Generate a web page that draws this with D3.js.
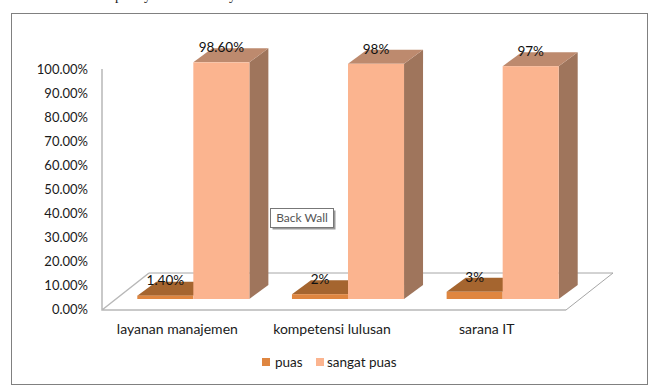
<!DOCTYPE html>
<html>
<head>
<meta charset="utf-8">
<script src="https://cdn.jsdelivr.net/npm/d3@7"></script>
<style>
    html, body { margin: 0; padding: 0; background: #fff; }
    text { font-family: Lato, "Open Sans", sans-serif; fill: #1a1a1a; }
</style>
</head>
<body>
<div id="chart"></div>
<script>
const categories = ["layanan manajemen", "kompetensi lulusan", "sarana IT"];
const seriesNames = ["puas", "sangat puas"];
const puas = [1.4, 2, 3];
const sangatPuas = [98.6, 98, 97];
const puasLabels = ["1.40%", "2%", "3%"];
const sangatPuasLabels = ["98.60%", "98%", "97%"];
const yTicks = [0, 10, 20, 30, 40, 50, 60, 70, 80, 90, 100];

const width = 657, height = 390;
const floor = { left: 102, right: 566, front: 310, dx: 47, dy: 37 };
const depth = { dx: 19, dy: 14 };   // bar depth
const plane = { dx: 14, dy: 10 };   // bars stand a bit behind the front edge of the floor

const colors = {
    puas: { front: "#df8640", top: "#a5652f" },
    sangat: { front: "#fbb48f", top: "#bd8a6e", side: "#9f755c" }
};

const svg = d3.select("#chart").append("svg")
    .attr("width", width)
    .attr("height", height)
    .style("display", "block");

svg.append("rect")
    .attr("x", 11.5).attr("y", 13.5)
    .attr("width", 636).attr("height", 371)
    .attr("fill", "#fff")
    .attr("stroke", "#808080");

// Leftover descenders of the page text, cropped at the top edge
svg.selectAll("text.cut")
    .data(["p", "y", "y"])
    .enter()
    .append("text")
    .attr("class", "cut")
    .attr("x", (d, i) => [115, 144, 229][i])
    .attr("y", 0)
    .style("font-family", "'Liberation Serif', serif")
    .style("font-size", "14px")
    .text(d => d);

// Scales
const xAxisScale = d3.scaleBand()
    .domain(categories)
    .range([floor.left - 2, floor.right - 2]);

const x0 = d3.scaleBand()
    .domain(categories)
    .range([floor.left + plane.dx, floor.right + plane.dx]);

const x1 = d3.scaleBand()
    .domain(seriesNames)
    .range([0, x0.bandwidth()])
    .paddingInner(0)
    .paddingOuter(0.38);

const y = d3.scaleLinear()
    .domain([0, 100])
    .range([floor.front - 1, 69]);

// Floor and left wall
svg.append("path")
    .attr("d", "M" + (floor.left + floor.dx) + "," + (floor.front - floor.dy)
        + "L" + (floor.right + floor.dx) + "," + (floor.front - floor.dy)
        + "L" + floor.right + "," + floor.front)
    .attr("fill", "none")
    .attr("stroke", "#a6a6a6");

svg.append("path")
    .attr("d", "M" + floor.left + ",69L" + floor.left + "," + floor.front
        + "L" + floor.right + "," + floor.front
        + "M" + floor.left + "," + floor.front
        + "L" + (floor.left + floor.dx) + "," + (floor.front - floor.dy))
    .attr("fill", "none")
    .attr("stroke", "#b8b8b8")
    .attr("stroke-width", 1.5);

// Axes
const yAxis = svg.append("g")
    .attr("transform", "translate(" + (floor.left - 14) + ",0)")
    .call(d3.axisLeft(y).tickValues(yTicks).tickSize(0).tickFormat(d => d3.format(".2f")(d) + "%"));
yAxis.select(".domain").remove();
yAxis.selectAll("text")
    .attr("x", 0)
    .style("font-family", "Lato, sans-serif")
    .style("font-size", "13px");

const xAxis = svg.append("g")
    .attr("transform", "translate(0,321)")
    .call(d3.axisBottom(xAxisScale).tickSize(0));
xAxis.select(".domain").remove();
xAxis.selectAll("text")
    .attr("y", 3)
    .style("font-family", "Lato, sans-serif")
    .style("font-size", "14px");

// Bars
const base = y(0) - plane.dy;
function barTop(v) {
    return base - (y(0) - y(v));
}

function topFace(x, w, v) {
    const t = barTop(v);
    return [[x, t], [x + depth.dx, t - depth.dy], [x + w + depth.dx, t - depth.dy], [x + w, t]];
}

function sideFace(x, w, v) {
    const t = barTop(v);
    const r = x + w;
    return [[r, t], [r + depth.dx, t - depth.dy], [r + depth.dx, base - depth.dy], [r, base]];
}

const line = d3.line();

const puasBars = svg.append("g").selectAll("g")
    .data(categories)
    .enter()
    .append("g");

puasBars.append("path")
    .attr("d", (d, i) => line(topFace(x0(d) + x1("puas"), x1.bandwidth(), puas[i])) + "Z")
    .attr("fill", colors.puas.top);

puasBars.append("rect")
    .attr("x", d => x0(d) + x1("puas"))
    .attr("y", (d, i) => barTop(puas[i]))
    .attr("width", x1.bandwidth())
    .attr("height", (d, i) => base - barTop(puas[i]))
    .attr("fill", colors.puas.front);

const sangatBars = svg.append("g").selectAll("g")
    .data(categories)
    .enter()
    .append("g");

sangatBars.append("path")
    .attr("d", (d, i) => line(sideFace(x0(d) + x1("sangat puas"), x1.bandwidth(), sangatPuas[i])) + "Z")
    .attr("fill", colors.sangat.side);

sangatBars.append("path")
    .attr("d", (d, i) => line(topFace(x0(d) + x1("sangat puas"), x1.bandwidth(), sangatPuas[i])) + "Z")
    .attr("fill", colors.sangat.top);

sangatBars.append("rect")
    .attr("x", d => x0(d) + x1("sangat puas"))
    .attr("y", (d, i) => barTop(sangatPuas[i]))
    .attr("width", x1.bandwidth())
    .attr("height", (d, i) => base - barTop(sangatPuas[i]))
    .attr("fill", colors.sangat.front);

// Value labels
function addLabels(name, values, labels) {
    svg.append("g").selectAll("text")
        .data(categories)
        .enter()
        .append("text")
        .attr("x", d => x0(d) + x1(name) + x1.bandwidth() / 2)
        .attr("y", (d, i) => barTop(values[i]) - depth.dy - 1)
        .attr("dy", "0.35em")
        .attr("text-anchor", "middle")
        .style("font-size", "13.5px")
        .style("fill", "#111")
        .text((d, i) => labels[i]);
}
addLabels("puas", puas, puasLabels);
addLabels("sangat puas", sangatPuas, sangatPuasLabels);

// Legend
const legendSwatchX = [262, 316];
const legendTextX = [275, 327];
const legend = svg.append("g").selectAll("g")
    .data(seriesNames)
    .enter()
    .append("g");

legend.append("rect")
    .attr("x", (d, i) => legendSwatchX[i])
    .attr("y", 358)
    .attr("width", 8)
    .attr("height", 8)
    .attr("fill", (d, i) => i === 0 ? colors.puas.front : colors.sangat.front);

legend.append("text")
    .attr("x", (d, i) => legendTextX[i])
    .attr("y", 362)
    .attr("dy", "0.35em")
    .style("font-size", "13.5px")
    .text(d => d);

// Excel hover tip caught in the screenshot
const tip = svg.append("g");
tip.append("rect")
    .attr("x", 272.5).attr("y", 210.5)
    .attr("width", 63).attr("height", 19)
    .attr("fill", "#999");
tip.append("rect")
    .attr("x", 270.5).attr("y", 208.5)
    .attr("width", 63).attr("height", 19)
    .attr("fill", "#fff")
    .attr("stroke", "#777");
tip.append("text")
    .attr("x", 302)
    .attr("y", 218)
    .attr("dy", "0.35em")
    .attr("text-anchor", "middle")
    .style("font-size", "12px")
    .style("fill", "#555")
    .text("Back Wall");
</script>
</body>
</html>
